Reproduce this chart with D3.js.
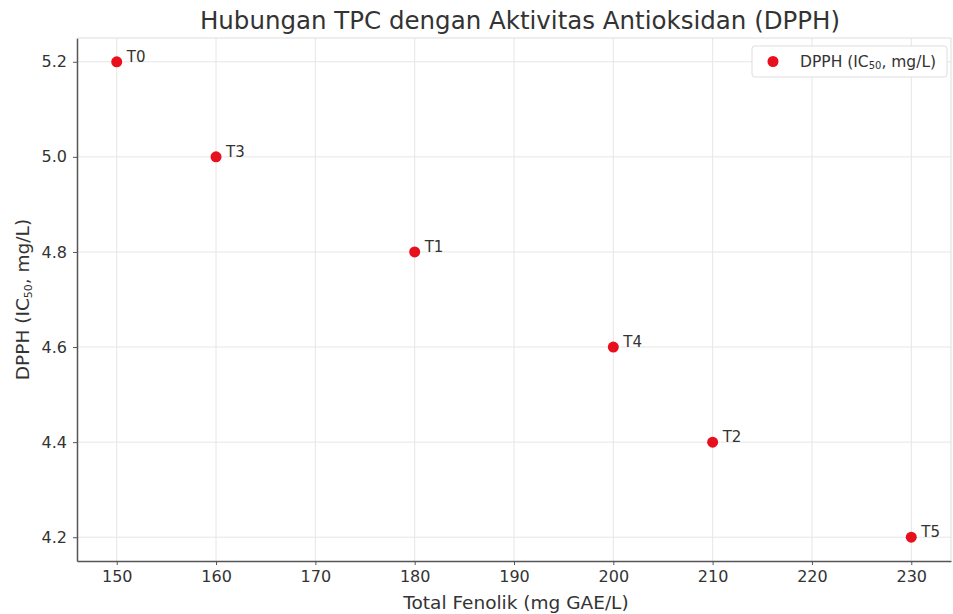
<!DOCTYPE html>
<html>
<head>
<meta charset="utf-8">
<script src="https://cdn.jsdelivr.net/npm/d3@7"></script>
<style>
body { margin: 0; background: #fff; }
text { font-family: "DejaVu Sans", sans-serif; fill: #333; }
</style>
</head>
<body>
<svg></svg>
<script>
var w = 953, h = 614

var labels = ["T0", "T1", "T2", "T3", "T4", "T5"]
var tpc = [150, 180, 210, 160, 200, 230]
var dpph = [5.2, 4.8, 4.4, 5.0, 4.6, 4.2]
var xTicks = [150, 160, 170, 180, 190, 200, 210, 220, 230]
var yTicks = [4.2, 4.4, 4.6, 4.8, 5.0, 5.2]

var m = { left: 77, right: 2, top: 38, bottom: 53 }

var svg = d3.select("svg")
    .attr("width", w)
    .attr("height", h)

var x = d3.scaleLinear().domain([146, 234]).range([m.left, w - m.right])
var y = d3.scaleLinear().domain([4.15, 5.25]).range([h - m.bottom, m.top])

// grid
svg.append("g")
    .selectAll("line")
    .data(xTicks)
    .join("line")
        .attr("x1", d => x(d)).attr("x2", d => x(d))
        .attr("y1", m.top).attr("y2", h - m.bottom)
        .attr("stroke", "#e6e6e6")
svg.append("g")
    .selectAll("line")
    .data(yTicks)
    .join("line")
        .attr("x1", m.left).attr("x2", w - m.right)
        .attr("y1", d => y(d)).attr("y2", d => y(d))
        .attr("stroke", "#e6e6e6")

var xAxis = svg.append("g")
    .attr("transform", "translate(0," + (h - m.bottom) + ")")
    .call(d3.axisBottom(x).tickValues(xTicks).tickSize(4).tickPadding(6).tickSizeOuter(0))
var yAxis = svg.append("g")
    .attr("transform", "translate(" + m.left + ",0)")
    .call(d3.axisLeft(y).tickValues(yTicks).tickFormat(d3.format(".1f")).tickSize(4).tickPadding(6).tickSizeOuter(0))

;[xAxis, yAxis].forEach(function(a) {
    a.selectAll("text").attr("font-size", 16).style("fill", "#333")
    a.selectAll("line").attr("stroke", "#555")
    a.select(".domain").attr("stroke", "#555").attr("stroke-width", 1.5)
})

// top/right frame, light
svg.append("line")
    .attr("x1", m.left).attr("x2", w - m.right)
    .attr("y1", m.top).attr("y2", m.top)
    .attr("stroke", "#ddd")
svg.append("line")
    .attr("x1", w - m.right).attr("x2", w - m.right)
    .attr("y1", m.top).attr("y2", h - m.bottom)
    .attr("stroke", "#ddd")

// points
var pts = svg.append("g")
pts.selectAll("circle")
    .data(labels)
    .join("circle")
        .attr("cx", (d, i) => x(tpc[i]))
        .attr("cy", (d, i) => y(dpph[i]))
        .attr("r", 5.5)
        .attr("fill", "#e8101c")
pts.selectAll("text")
    .data(labels)
    .join("text")
        .attr("x", (d, i) => x(tpc[i]) + 10)
        .attr("y", (d, i) => y(dpph[i]))
        .attr("font-size", 15)
        .text(d => d)

// title
svg.append("text")
    .attr("x", (m.left + w - m.right) / 2 + 6)
    .attr("y", 29)
    .attr("text-anchor", "middle")
    .attr("font-size", 24.5)
    .text("Hubungan TPC dengan Aktivitas Antioksidan (DPPH)")

// axis labels
svg.append("text")
    .attr("x", (m.left + w - m.right) / 2 + 2)
    .attr("y", 609)
    .attr("text-anchor", "middle")
    .attr("font-size", 18.5)
    .text("Total Fenolik (mg GAE/L)")

var yl = svg.append("text")
    .attr("transform", "translate(29," + ((m.top + h - m.bottom) / 2) + ") rotate(-90)")
    .attr("text-anchor", "middle")
    .attr("font-size", 18.5)
yl.append("tspan").text("DPPH (IC")
yl.append("tspan").attr("font-size", 11).attr("dy", 3).text("50")
yl.append("tspan").attr("dy", -3).text(", mg/L)")

// legend
var lg = svg.append("g").attr("transform", "translate(752,46)")
lg.append("rect")
    .attr("width", 195).attr("height", 31).attr("rx", 3)
    .attr("fill", "#fff").attr("stroke", "#ddd")
lg.append("circle").attr("cx", 21).attr("cy", 15.5).attr("r", 5.5).attr("fill", "#e8101c")
var lt = lg.append("text").attr("x", 48).attr("y", 21).attr("font-size", 15.5)
lt.append("tspan").text("DPPH (IC")
lt.append("tspan").attr("font-size", 10).attr("dy", 2).text("50")
lt.append("tspan").attr("dy", -2).text(", mg/L)")
</script>
</body>
</html>
